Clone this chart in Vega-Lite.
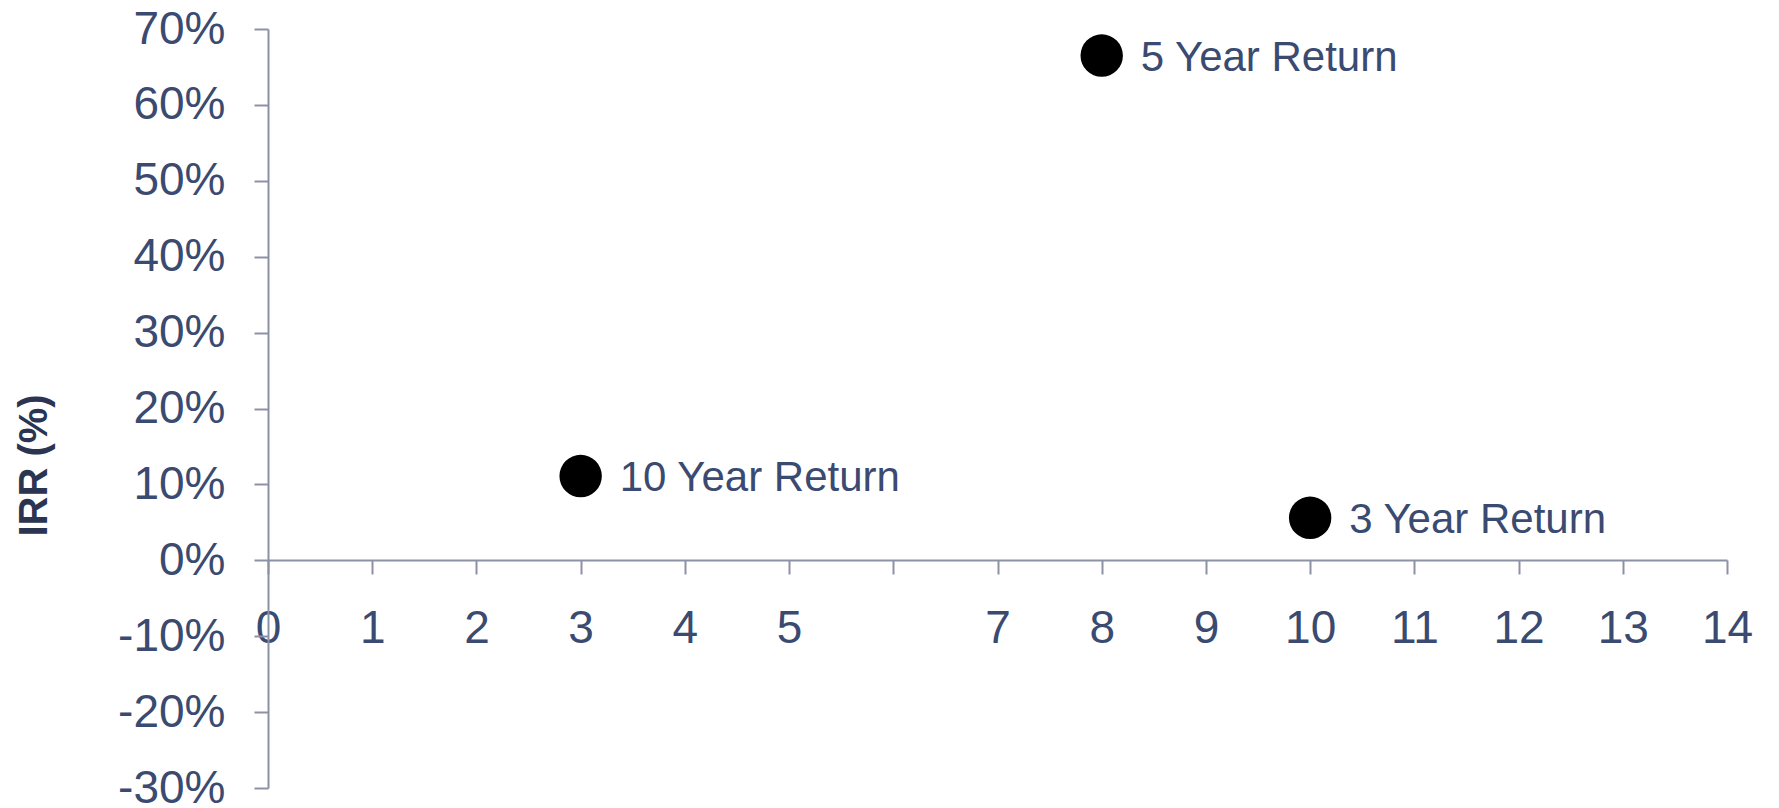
{
  "$schema": "https://vega.github.io/schema/vega-lite/v6.json",
  "autosize": "none",
  "width": 1459,
  "height": 759,
  "padding": {"left": 268, "top": 29, "right": 52, "bottom": 20},
  "background": "white",
  "config": {"view": {"stroke": null}, "font": "Liberation Sans"},
  "data": {
    "values": [
      {"x": 3, "irr": 0.111, "label": "10 Year Return"},
      {"x": 8, "irr": 0.665, "label": "5 Year Return"},
      {"x": 10, "irr": 0.056, "label": "3 Year Return"}
    ]
  },
  "encoding": {
    "x": {
      "field": "x", "type": "quantitative",
      "scale": {"domain": [0, 14], "nice": false, "zero": false},
      "axis": {
        "values": [0,1,2,3,4,5,6,7,8,9,10,11,12,13,14],
        "labelExpr": "datum.value == 6 ? '' : datum.label",
        "title": null,
        "grid": false,
        "offset": -228,
        "domainColor": "#8c91a5",
        "domainWidth": 2,
        "tickColor": "#8c91a5",
        "tickWidth": 2,
        "tickSize": 14,
        "labelFontSize": 46,
        "labelColor": "#3a4a70",
        "labelPadding": 32,
        "labelFlush": false,
        "labelOverlap": false
      }
    },
    "y": {
      "field": "irr", "type": "quantitative",
      "scale": {"domain": [-0.3, 0.7], "nice": false, "zero": false},
      "axis": {
        "values": [-0.3,-0.2,-0.1,0,0.1,0.2,0.3,0.4,0.5,0.6,0.7],
        "format": ".0%",
        "labelExpr": "replace(datum.label, '\u2212', '-')",
        "title": "IRR (%)",
        "titleFontSize": 40,
        "titleFontWeight": "bold",
        "titleColor": "#2b3552",
        "titleX": -234,
        "titleY": 436,
        "titleAlign": "center",
        "titleBaseline": "middle",
        "titleAngle": -90,
        "grid": false,
        "domainColor": "#8c91a5",
        "domainWidth": 2,
        "tickColor": "#8c91a5",
        "tickWidth": 2,
        "tickSize": 14,
        "labelFontSize": 46,
        "labelColor": "#3a4a70",
        "labelPadding": 29,
        "labelFlush": false,
        "labelOverlap": false
      }
    }
  },
  "layer": [
    {
      "mark": {"type": "point", "filled": true, "shape": "circle", "size": 1800, "color": "black", "opacity": 1}
    },
    {
      "mark": {"type": "text", "align": "left", "baseline": "middle", "dx": 39, "dy": 2, "fontSize": 42, "color": "#3a4a70"},
      "encoding": {"text": {"field": "label"}}
    }
  ]
}
